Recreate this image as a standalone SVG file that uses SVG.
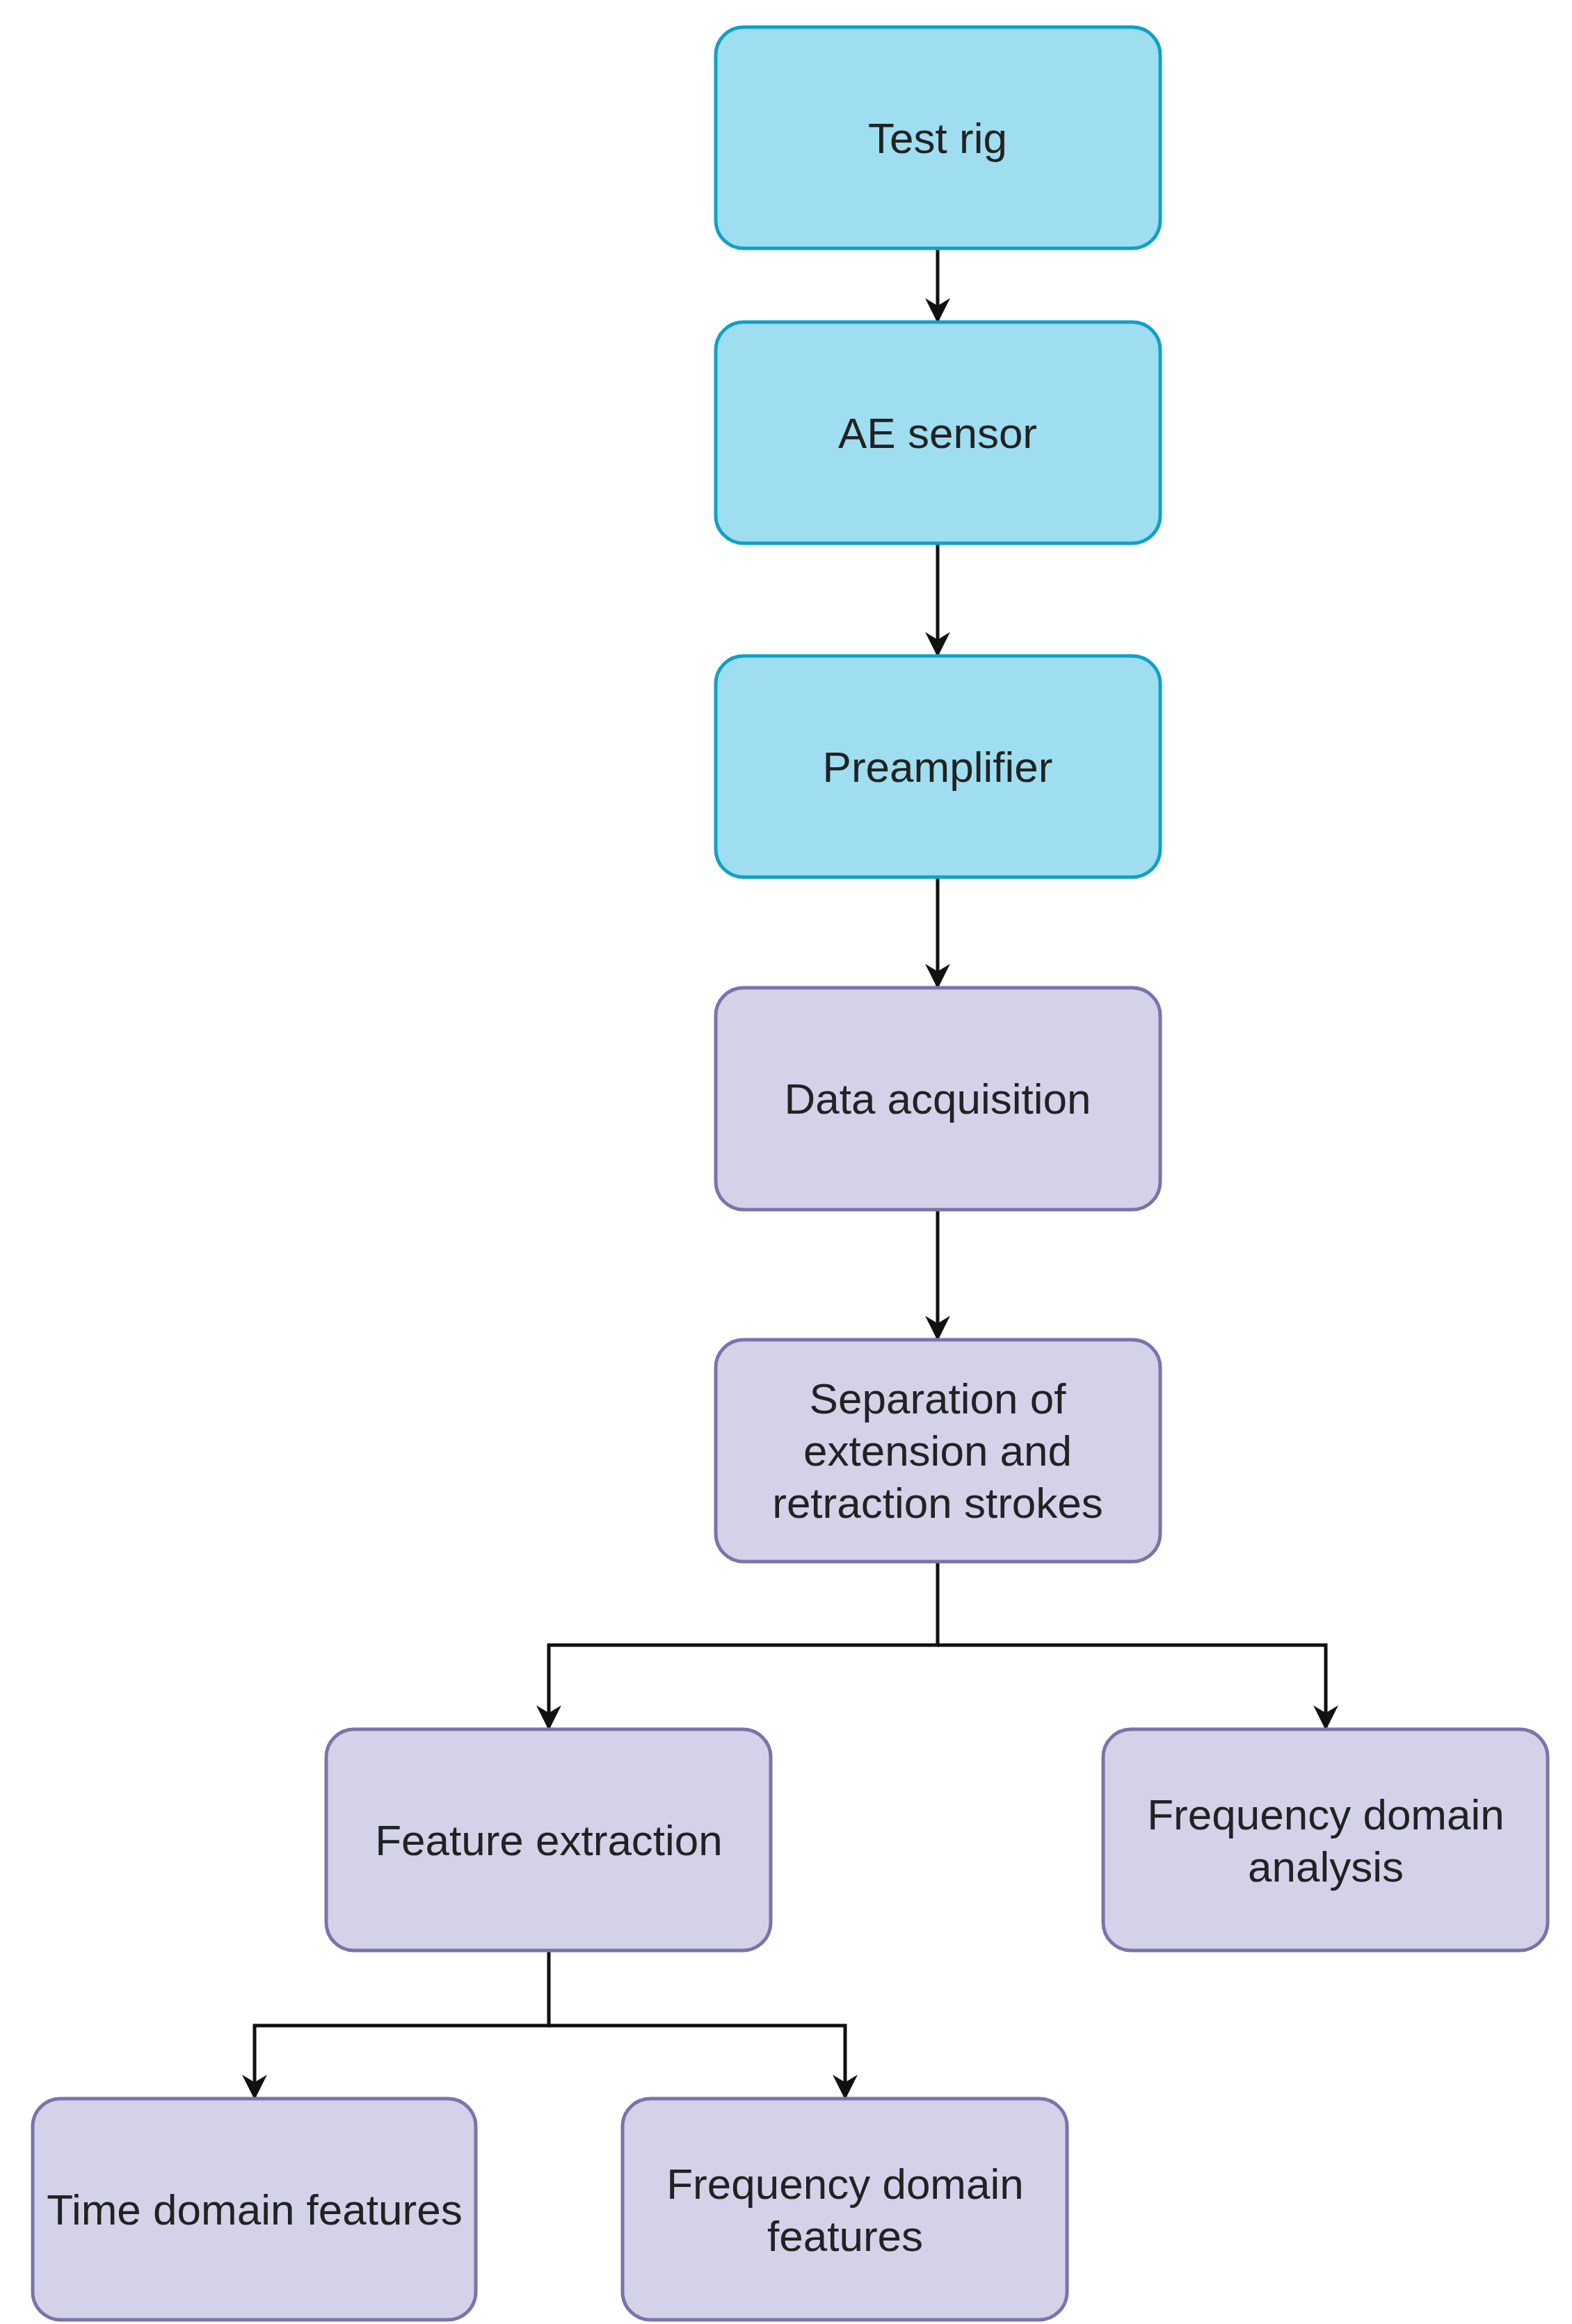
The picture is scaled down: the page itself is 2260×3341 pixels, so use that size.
<svg xmlns="http://www.w3.org/2000/svg" width="2260" height="3341" viewBox="0 0 2260 3341">
<style>
.b{fill:#9EDEF0;stroke:#0FA1C6;stroke-width:5}
.p{fill:#D4D2E8;stroke:#7D72AA;stroke-width:5}
text{font-family:"Liberation Sans",Arial,sans-serif;font-size:62px;fill:#222;text-anchor:middle}
.c{fill:none;stroke:#111;stroke-width:5}
</style>
<defs><marker id="a" markerWidth="10" markerHeight="10" refX="8" refY="5" orient="auto" markerUnits="userSpaceOnUse" viewBox="0 0 10 10" ><path d="M0,0 L10,5 L0,10 Z" fill="#111"/></marker>
<marker id="m" viewBox="0 0 10 10" refX="9" refY="5" markerWidth="36" markerHeight="36" markerUnits="userSpaceOnUse" orient="auto"><path d="M0,0 L10,5 L0,10 L3,5 Z" fill="#111"/></marker></defs>
<rect width="2260" height="3341" fill="#fff"/>
<g id="connectors">
<path class="c" marker-end="url(#m)" d="M1348,357 V461"/>
<path class="c" marker-end="url(#m)" d="M1348,781 V941"/>
<path class="c" marker-end="url(#m)" d="M1348,1261 V1418"/>
<path class="c" marker-end="url(#m)" d="M1348,1739 V1924"/>
<path class="c" marker-end="url(#m)" d="M1348,2245 V2365 H789 V2484"/>
<path class="c" marker-end="url(#m)" d="M1348,2365 H1906 V2484"/>
<path class="c" marker-end="url(#m)" d="M789,2804 V2912 H366 V3015"/>
<path class="c" marker-end="url(#m)" d="M789,2912 H1215 V3015"/>
</g>
<g id="n1"><rect class="b" x="1029" y="39" width="639" height="318" rx="40"/><text x="1348" y="220">Test rig</text></g>
<g id="n2"><rect class="b" x="1029" y="463" width="639" height="318" rx="40"/><text x="1348" y="644">AE sensor</text></g>
<g id="n3"><rect class="b" x="1029" y="943" width="639" height="318" rx="40"/><text x="1348" y="1124">Preamplifier</text></g>
<g id="n4"><rect class="p" x="1029" y="1420" width="639" height="319" rx="40"/><text x="1348" y="1601">Data acquisition</text></g>
<g id="n5"><rect class="p" x="1029" y="1926" width="639" height="319" rx="40"/><text x="1348" y="2032">Separation of</text><text x="1348" y="2107">extension and</text><text x="1348" y="2182">retraction strokes</text></g>
<g id="n6"><rect class="p" x="469" y="2486" width="639" height="318" rx="40"/><text x="789" y="2667">Feature extraction</text></g>
<g id="n7"><rect class="p" x="1586" y="2486" width="639" height="318" rx="40"/><text x="1906" y="2630">Frequency domain</text><text x="1906" y="2705">analysis</text></g>
<g id="n8"><rect class="p" x="47" y="3017" width="637" height="318" rx="40"/><text x="366" y="3198">Time domain features</text></g>
<g id="n9"><rect class="p" x="895" y="3017" width="639" height="318" rx="40"/><text x="1215" y="3161">Frequency domain</text><text x="1215" y="3236">features</text></g>
</svg>
